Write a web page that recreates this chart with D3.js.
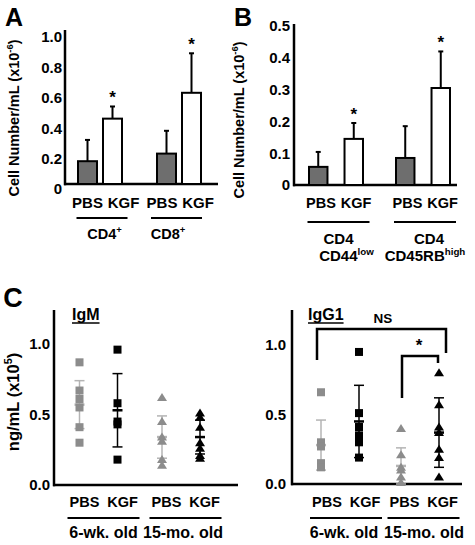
<!DOCTYPE html>
<html><head><meta charset="utf-8">
<script src="https://cdn.jsdelivr.net/npm/d3@7"></script>
<style>
body{margin:0;background:#fff}
text{font-family:"Liberation Sans",Arial,Helvetica,sans-serif;font-weight:bold;fill:#000}
</style>
</head><body>
<svg id="c" width="475" height="545"></svg>
<script>
// ---------- DATA ----------
const treatments = ["PBS", "KGF"];

// Panel A
const groupsA = ["CD4", "CD8"];
const pbsA = [0.15, 0.20];
const pbsSdA = [0.14, 0.15];
const kgfA = [0.43, 0.60];
const kgfSdA = [0.08, 0.26];
const ticksA = [0, 0.2, 0.4, 0.6, 0.8, 1.0];

// Panel B
const groupsB = ["CD44low", "CD45RBhigh"];
const pbsB = [0.057, 0.085];
const pbsSdB = [0.047, 0.10];
const kgfB = [0.145, 0.305];
const kgfSdB = [0.05, 0.115];
const ticksB = [0, 0.1, 0.2, 0.3, 0.4, 0.5];

// Panel C
const ages = ["6-wk. old", "15-mo. old"];
const ticksC = [0, 0.5, 1.0];
const igm6wkPBS = [0.87, 0.67, 0.61, 0.55, 0.41, 0.30];
const igm6wkKGF = [0.96, 0.58, 0.45, 0.43, 0.18];
const igm15moPBS = [0.62, 0.45, 0.34, 0.31, 0.18, 0.14];
const igm15moKGF = [0.51, 0.48, 0.41, 0.30, 0.26, 0.21, 0.19];
const igmMean = [0.57, 0.53, 0.34, 0.34];
const igmSd = [0.17, 0.26, 0.15, 0.12];
const igg6wkPBS = [0.66, 0.30, 0.27, 0.15, 0.12];
const igg6wkKGF = [0.95, 0.51, 0.41, 0.35, 0.30, 0.19];
const igg15moPBS = [0.40, 0.21, 0.12, 0.10, 0.05, 0.01];
const igg15moKGF = [0.80, 0.57, 0.41, 0.37, 0.25, 0.19, 0.05];
const iggMean = [0.28, 0.45, 0.13, 0.37];
const iggSd = [0.18, 0.26, 0.13, 0.25];

// ---------- DRAW ----------
const svg = d3.select("#c");
const GRAY_BAR = "#6e6e6e", GRAY_PT = "#8c8c8c", GRAY_ERR = "#b4b4b4";

function text(x, y, s, size, anchor) {
  return svg.append("text").attr("x", x).attr("y", y).attr("font-size", size)
    .attr("text-anchor", anchor || "middle").text(s);
}
function line(x1, y1, x2, y2, w, c) {
  svg.append("line").attr("x1", x1).attr("y1", y1).attr("x2", x2).attr("y2", y2)
    .attr("stroke", c || "#000").attr("stroke-width", w);
}
function yAxis(scale, ticks, x, topY, fmt, pad, shift) {
  const g = svg.append("g").attr("transform", `translate(${x},0)`)
    .call(d3.axisLeft(scale).tickValues(ticks).tickSize(0).tickPadding(pad).tickFormat(fmt));
  g.select(".domain").remove();
  g.selectAll("text").attr("font-size", 15).attr("font-family", null).style("font-weight", "bold")
    .attr("transform", `translate(0,${shift || 0})`);
  line(x, topY, x, scale(0) + 1.25, 2.5);
}
function rotTitle(x, y, size, parts) {
  const t = svg.append("text").attr("transform", `translate(${x},${y}) rotate(-90)`)
    .attr("text-anchor", "middle").attr("font-size", size);
  parts.forEach(p => {
    const ts = t.append("tspan").text(p.s);
    if (p.sup) ts.attr("font-size", size * 0.65).attr("dy", -size * 0.4);
    else if (p.after) ts.attr("dy", size * 0.4);
  });
}
function supText(x, y, base, sup, size) {
  const t = text(x, y, base, size);
  t.append("tspan").text(sup).attr("font-size", size * 0.65).attr("dy", -size * 0.38);
  return t;
}

// ---- Panel A ----
text(14, 26, "A", 25);
const yA = d3.scaleLinear().domain([0, 1]).range([184, 32]);
const outerA = d3.scalePoint().domain(groupsA).range([100, 179]);
const innerA = d3.scaleBand().domain(treatments).range([-22, 22]).paddingInner(0.24);
const labA = d3.scalePoint().domain(groupsA).range([105.5, 180]);
const nameA = d3.scalePoint().domain(groupsA).range([104.5, 168]);
yAxis(yA, ticksA, 65, 30, d => d === 0 ? "0" : d3.format(".1f")(d), 3, 5);
line(64, 184, 218, 184, 2.5);
rotTitle(19, 118, 14.5, [{s: "Cell Number/mL (x10"}, {s: "-6", sup: true}, {s: ")", after: true}]);

function bars(outer, inner, groups, yS, vals, sds, trt, fill) {
  groups.forEach((g, i) => {
    const x0 = outer(g) + inner(trt), w = inner.bandwidth(), cx = x0 + w / 2;
    const top = yS(vals[i] + sds[i]);
    line(cx, yS(vals[i]), cx, top, 2);
    line(cx - 2.5, top, cx + 2.5, top, 2);
    svg.append("rect").attr("x", x0).attr("y", yS(vals[i])).attr("width", w)
      .attr("height", yS(0) - yS(vals[i])).attr("fill", fill).attr("stroke", "#000").attr("stroke-width", 2);
  });
}
bars(outerA, innerA, groupsA, yA, pbsA, pbsSdA, "PBS", GRAY_BAR);
bars(outerA, innerA, groupsA, yA, kgfA, kgfSdA, "KGF", "#fff");
groupsA.forEach((g, i) => {
  const cx = outerA(g) + innerA("KGF") + innerA.bandwidth() / 2;
  text(cx, yA(kgfA[i] + kgfSdA[i]) - 3, "*", 17);
  text(labA(g) - 18, 208, "PBS", 15);
  text(labA(g) + 18, 208, "KGF", 15);
  line(labA(g) - 29, 218, labA(g) + 22, 218, 2.2);
  supText(nameA(g), 239, g, "+", 14.5);
});

// ---- Panel B ----
text(243, 26, "B", 25);
const yB = d3.scaleLinear().domain([0, 0.5]).range([185, 26]);
const outerB = d3.scalePoint().domain(groupsB).range([336, 423]);
const innerB = d3.scaleBand().domain(treatments).range([-27, 27]).paddingInner(0.48);
const labB = d3.scalePoint().domain(groupsB).range([338.5, 425]);
yAxis(yB, ticksB, 294, 24, d => d === 0 ? "0" : d3.format(".1f")(d), 4, 0);
line(293, 185, 457, 185, 2.5);
rotTitle(244, 120, 14.5, [{s: "Cell Number/mL (x10"}, {s: "-6", sup: true}, {s: ")", after: true}]);
bars(outerB, innerB, groupsB, yB, pbsB, pbsSdB, "PBS", GRAY_BAR);
bars(outerB, innerB, groupsB, yB, kgfB, kgfSdB, "KGF", "#fff");
const subB = [["CD44", "low"], ["CD45RB", "high"]];
const subOff = [8, 0];
groupsB.forEach((g, i) => {
  const cx = outerB(g) + innerB("KGF") + innerB.bandwidth() / 2;
  text(cx, yB(kgfB[i] + kgfSdB[i]) - 3, "*", 17);
  text(labB(g) - 17.5, 208, "PBS", 14.5);
  text(labB(g) + 17.5, 208, "KGF", 14.5);
  line(labB(g) - 31, 222, labB(g) + 31, 222, 2.2);
  text(labB(g) + (i ? 4 : 0), 244, "CD4", 15);
  supText(labB(g) + subOff[i], 261, subB[i][0], subB[i][1], 15);
});

// ---- Panel C ----
text(13, 307, "C", 27);
function triPath(cx, cy) {
  return `M${cx - 5},${cy + 3.5}L${cx},${cy - 4.5}L${cx + 5},${cy + 3.5}Z`;
}
function scatterPanel(x0, x1, yS, ptOuter, labOuter, ageOuter, pad, sets, means, sds, title, titleX) {
  yAxis(yS, ticksC, x0, 310, d3.format(".1f"), pad, 0);
  line(x0 - 1, yS(0), x1, yS(0), 2.5);
  const keys = [["6-wk. old", "PBS"], ["6-wk. old", "KGF"], ["15-mo. old", "PBS"], ["15-mo. old", "KGF"]];
  const inner = d3.scalePoint().domain(treatments).range([-19, 19]);
  keys.forEach((k, i) => {
    const cx = ptOuter(k[0]) + inner(k[1]);
    const col = k[1] === "PBS" ? GRAY_ERR : "#000";
    const hi = yS(means[i] + sds[i]), lo = yS(Math.max(0, means[i] - sds[i]));
    line(cx, hi, cx, lo, 1.5, col);
    line(cx - 5, hi, cx + 5, hi, 1.5, col);
    line(cx - 5, lo, cx + 5, lo, 1.5, col);
    line(cx - 5, yS(means[i]), cx + 5, yS(means[i]), 2.5, col);
    const pc = k[1] === "PBS" ? GRAY_PT : "#000";
    sets[i].forEach(v => {
      if (k[0] === "6-wk. old") {
        svg.append("rect").attr("x", cx - 4).attr("y", yS(v) - 4).attr("width", 8).attr("height", 8).attr("fill", pc);
      } else {
        svg.append("path").attr("d", triPath(cx, yS(v))).attr("fill", pc);
      }
    });
  });
  ages.forEach(a => {
    treatments.forEach(t => text(labOuter(a) + inner(t), 507, t, 14.5));
    line(labOuter(a) - 36, 518, labOuter(a) + 36, 518, 2.2);
    text(ageOuter(a), 538, a, 16);
  });
  const tt = text(titleX, 320, title, 16, "start");
  const w = tt.node().getComputedTextLength();
  line(titleX, 323, titleX + w, 323, 1.5);
}
const yCL = d3.scaleLinear().domain([0, 1]).range([485, 344]);
scatterPanel(54, 238, yCL,
  d3.scalePoint().domain(ages).range([98.5, 181]),
  d3.scalePoint().domain(ages).range([103.5, 185.5]),
  d3.scalePoint().domain(ages).range([103.5, 183]), 4,
  [igm6wkPBS, igm6wkKGF, igm15moPBS, igm15moKGF], igmMean, igmSd, "IgM", 72);
rotTitle(19, 402, 16.5, [{s: "ng/mL (x10"}, {s: "5", sup: true}, {s: ")", after: true}]);

const yCR = d3.scaleLinear().domain([0, 1]).range([484, 345]);
scatterPanel(292, 462, yCR,
  d3.scalePoint().domain(ages).range([340, 420]),
  d3.scalePoint().domain(ages).range([346, 423.5]),
  d3.scalePoint().domain(ages).range([344, 424]), 6,
  [igg6wkPBS, igg6wkKGF, igg15moPBS, igg15moKGF], iggMean, iggSd, "IgG1", 308);

// brackets
function bracket(xa, xb, yTop, ya, yb) {
  svg.append("path").attr("d", `M${xa},${ya}V${yTop}H${xb}V${yb}`).attr("fill", "none")
    .attr("stroke", "#000").attr("stroke-width", 2.5);
}
bracket(317, 446, 329, 360, 353);
bracket(402, 438, 356, 398, 363);
text(383, 323, "NS", 13.5);
text(419, 351, "*", 17);
</script>
</body></html>
